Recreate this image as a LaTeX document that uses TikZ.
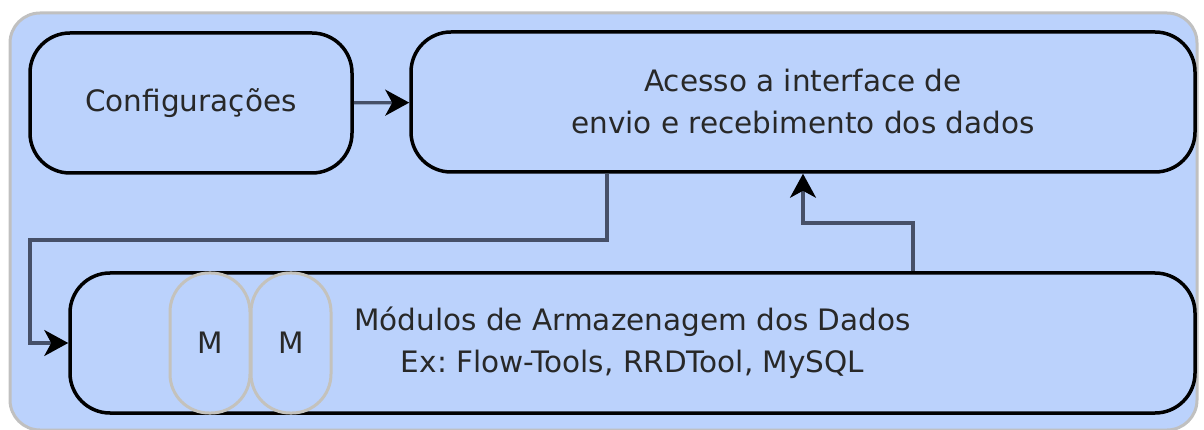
\documentclass[tikz,border=0pt]{standalone}
\usepackage{fontspec}
\setmainfont{DejaVu Sans}
\usetikzlibrary{arrows.meta,positioning}

\definecolor{boxblue}{RGB}{187,210,252}
\definecolor{framegray}{RGB}{192,192,192}
\definecolor{modgray}{RGB}{196,194,188}
\definecolor{linkgray}{RGB}{70,80,104}
\definecolor{textgray}{RGB}{40,40,40}

\begin{document}
\frenchspacing
\begin{tikzpicture}[x=1pt,y=-1pt,
  every node/.style={font=\fontsize{29.5}{42}\selectfont,text=textgray},
  block/.style={draw=black,line width=3.5pt,fill=boxblue,rounded corners=40pt,
    minimum height=140pt,align=center,inner sep=0pt},
  modbox/.style={draw=modgray,line width=3pt,fill=boxblue,rounded corners=39pt,
    minimum width=80pt,minimum height=140pt,inner sep=0pt},
  link/.style={draw=linkgray,line width=3.2pt,
    -{Stealth[length=24pt,width=26pt,inset=7pt,color=black]}}]
\useasboundingbox (0,0) rectangle (1204,430);

% frame
\draw[framegray,line width=3pt,fill=boxblue,rounded corners=30pt] (10,13) rectangle (1197,430);

% blocks
\node[block,minimum width=322pt] (config) at (191,103) {Configurações};
\node[block,minimum width=784pt] (acesso) at (803,102) {Acesso a interface de\\envio e recebimento dos dados};
\node[block,minimum width=1125pt] (modulos) at (632.5,343) {Módulos de Armazenagem dos Dados\\Ex: Flow-Tools, RRDTool, MySQL};

% modules
\node[modbox] (m1) at (210,343) {M};
\node[modbox] (m2) at (291,343) {M};

% links
\draw[link] (config) -- (acesso);
\draw[link] ([xshift=-196pt]acesso.south) |- (30,240) |- (modulos.west);
\draw[link] ([xshift=280.5pt]modulos.north) |- (803,223) -| (acesso.south);
\end{tikzpicture}
\end{document}
